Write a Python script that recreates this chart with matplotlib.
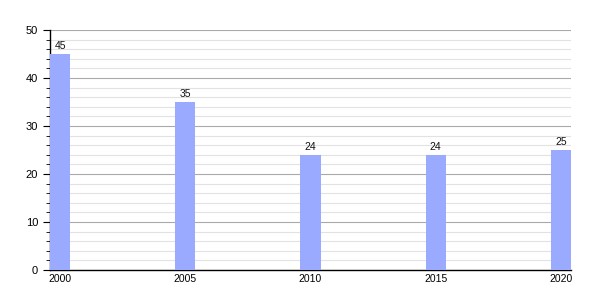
import matplotlib
matplotlib.use("Agg")
import matplotlib.pyplot as plt
from matplotlib.ticker import MultipleLocator

plt.rcParams["font.family"] = ["Liberation Sans", "DejaVu Sans"]

years = [2000, 2005, 2010, 2015, 2020]
values = [45, 35, 24, 24, 25]

fig = plt.figure(figsize=(6, 3), dpi=100)
ax = fig.add_axes([50/600, 0.1, 521/600, 0.8])

ax.bar(years, values, width=0.8, color="#99aaff", zorder=3)
for x, v in zip(years, values):
    ax.text(x, v + 0.6, str(v), ha="center", va="bottom", fontsize=7.5, color="#111111")

ax.set_xlim(1999.6, 2020.4)
ax.set_ylim(0, 50)
ax.set_xticks(years)
ax.set_xticklabels([str(y) for y in years])
ax.yaxis.set_major_locator(MultipleLocator(10))
ax.yaxis.set_minor_locator(MultipleLocator(2))
ax.grid(axis="y", which="major", color="#aaaaaa", linewidth=0.8, zorder=0)
ax.grid(axis="y", which="minor", color="#e2e2e2", linewidth=0.8, zorder=0)

for s in ["top", "right"]:
    ax.spines[s].set_visible(False)
ax.spines["left"].set_linewidth(1)
ax.spines["bottom"].set_linewidth(1)
ax.tick_params(axis="x", length=0, labelsize=7.5, pad=3)
ax.tick_params(axis="y", which="major", length=5, labelsize=8)
ax.tick_params(axis="y", which="minor", length=3)

fig.savefig("out.png")
